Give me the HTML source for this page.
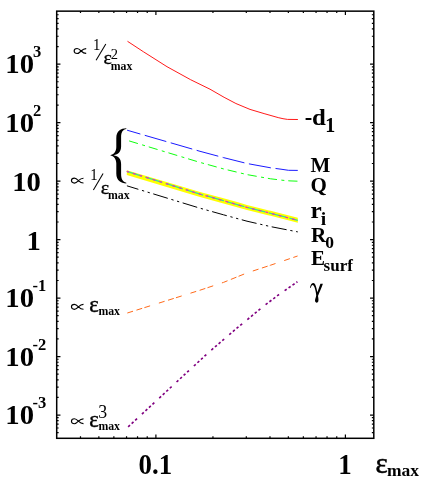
<!DOCTYPE html>
<html><head><meta charset="utf-8"><title>plot</title>
<style>
html,body{margin:0;padding:0;background:#fff;}
body{width:425px;height:482px;overflow:hidden;}
svg{display:block;will-change:transform;}
text{font-family:"Liberation Serif",serif;fill:#000;}
.b{font-weight:bold;}
</style></head><body>
<svg width="425" height="482" viewBox="0 0 425 482">
<rect x="0" y="0" width="425" height="482" fill="#fff"/>
<polygon points="126.8,170.2 180.0,185.9 200.0,191.9 223.5,198.3 238.0,202.3 247.0,204.9 268.0,210.2 270.6,210.8 297.8,217.8 297.8,222.7 270.6,215.8 268.0,215.2 247.0,210.0 238.0,207.5 223.5,203.5 200.0,197.0 180.0,190.9 126.8,175.0" fill="#ffff00"/>
<polyline points="126.8,171.4 200.0,194.1 223.5,200.7 247.0,207.4 270.6,213.3 297.8,220.3" fill="none" stroke="#30e0a0" stroke-width="1.3" stroke-dasharray="17.8 3.6" stroke-dashoffset="2"/>
<polyline points="126.8,171.4 200.0,194.1 223.5,200.7 247.0,207.4 270.6,213.3 297.8,220.3" fill="none" stroke="#e830c0" stroke-width="1.3" stroke-dasharray="2.8 4.1" stroke-dashoffset="0.5"/>
<polyline points="127.5,41.3 143.5,51.8 167.0,66.7 190.6,79.7 210.0,89.2 224.1,97.3 235.9,103.5 250.0,109.4 264.1,113.6 278.2,117.6 283.0,118.7 287.5,119.4 297.9,119.5" fill="none" stroke="#ff0000" stroke-width="0.9"/>
<polyline points="127.1,130.2 200.0,151.3 223.5,157.6 247.0,163.5 270.6,167.8 281.0,169.2 288.5,170.3 298.0,170.4" fill="none" stroke="#0000ff" stroke-width="0.9" stroke-dasharray="22.4 4.6" stroke-dashoffset="8.6"/>
<polyline points="129.1,140.9 200.0,162.4 223.5,168.9 247.0,174.6 270.6,178.8 283.0,180.3 290.0,180.9 298.0,181.2" fill="none" stroke="#00ff00" stroke-width="0.95" stroke-dasharray="9.2 4.4 3 3.95"/>
<polyline points="126.9,185.8 200.0,208.2 223.5,214.8 247.0,221.2 270.6,226.6 297.8,231.9" fill="none" stroke="#000000" stroke-width="1" stroke-dasharray="15.2 3.75 2.3 3.6 2.3 3.6" stroke-dashoffset="3.2"/>
<polyline points="127.3,313.0 200.0,290.2 223.5,282.4 247.0,272.9 270.6,265.2 297.6,256.0" fill="none" stroke="#ff6a1a" stroke-width="1" stroke-dasharray="6 3.6 6 2.3 6 9.2"/>
<polyline points="128.0,427.0 180.0,378.8 208.2,352.8 236.5,328.5 264.7,305.3 278.9,294.6 297.4,281.8" fill="none" stroke="#800080" stroke-width="1.65" stroke-dasharray="2.5 2.3 2.5 2.3 2.5 2.3 2.5 6.7" stroke-dashoffset="4.6"/>
<rect x="56.70" y="11.15" width="317.10" height="427.15" fill="none" stroke="#000" stroke-width="1.50"/>
<path d="M56.70 432.64h1.95M373.80 432.64h-1.95M56.70 428.01h1.95M373.80 428.01h-1.95M56.70 424.10h1.95M373.80 424.10h-1.95M56.70 420.71h1.95M373.80 420.71h-1.95M56.70 417.72h1.95M373.80 417.72h-1.95M56.70 415.04h3.75M373.80 415.04h-3.75M56.70 397.44h1.95M373.80 397.44h-1.95M56.70 387.14h1.95M373.80 387.14h-1.95M56.70 379.83h1.95M373.80 379.83h-1.95M56.70 374.16h1.95M373.80 374.16h-1.95M56.70 369.53h1.95M373.80 369.53h-1.95M56.70 365.62h1.95M373.80 365.62h-1.95M56.70 362.23h1.95M373.80 362.23h-1.95M56.70 359.24h1.95M373.80 359.24h-1.95M56.70 356.56h3.75M373.80 356.56h-3.75M56.70 338.96h1.95M373.80 338.96h-1.95M56.70 328.66h1.95M373.80 328.66h-1.95M56.70 321.35h1.95M373.80 321.35h-1.95M56.70 315.68h1.95M373.80 315.68h-1.95M56.70 311.05h1.95M373.80 311.05h-1.95M56.70 307.14h1.95M373.80 307.14h-1.95M56.70 303.75h1.95M373.80 303.75h-1.95M56.70 300.76h1.95M373.80 300.76h-1.95M56.70 298.08h3.75M373.80 298.08h-3.75M56.70 280.48h1.95M373.80 280.48h-1.95M56.70 270.18h1.95M373.80 270.18h-1.95M56.70 262.87h1.95M373.80 262.87h-1.95M56.70 257.20h1.95M373.80 257.20h-1.95M56.70 252.57h1.95M373.80 252.57h-1.95M56.70 248.66h1.95M373.80 248.66h-1.95M56.70 245.27h1.95M373.80 245.27h-1.95M56.70 242.28h1.95M373.80 242.28h-1.95M56.70 239.60h3.75M373.80 239.60h-3.75M56.70 222.00h1.95M373.80 222.00h-1.95M56.70 211.70h1.95M373.80 211.70h-1.95M56.70 204.39h1.95M373.80 204.39h-1.95M56.70 198.72h1.95M373.80 198.72h-1.95M56.70 194.09h1.95M373.80 194.09h-1.95M56.70 190.18h1.95M373.80 190.18h-1.95M56.70 186.79h1.95M373.80 186.79h-1.95M56.70 183.80h1.95M373.80 183.80h-1.95M56.70 181.12h3.75M373.80 181.12h-3.75M56.70 163.52h1.95M373.80 163.52h-1.95M56.70 153.22h1.95M373.80 153.22h-1.95M56.70 145.91h1.95M373.80 145.91h-1.95M56.70 140.24h1.95M373.80 140.24h-1.95M56.70 135.61h1.95M373.80 135.61h-1.95M56.70 131.70h1.95M373.80 131.70h-1.95M56.70 128.31h1.95M373.80 128.31h-1.95M56.70 125.32h1.95M373.80 125.32h-1.95M56.70 122.64h3.75M373.80 122.64h-3.75M56.70 105.04h1.95M373.80 105.04h-1.95M56.70 94.74h1.95M373.80 94.74h-1.95M56.70 87.43h1.95M373.80 87.43h-1.95M56.70 81.76h1.95M373.80 81.76h-1.95M56.70 77.13h1.95M373.80 77.13h-1.95M56.70 73.22h1.95M373.80 73.22h-1.95M56.70 69.83h1.95M373.80 69.83h-1.95M56.70 66.84h1.95M373.80 66.84h-1.95M56.70 64.16h3.75M373.80 64.16h-3.75M56.70 46.56h1.95M373.80 46.56h-1.95M56.70 36.26h1.95M373.80 36.26h-1.95M56.70 28.95h1.95M373.80 28.95h-1.95M56.70 23.28h1.95M373.80 23.28h-1.95M56.70 18.65h1.95M373.80 18.65h-1.95M56.70 14.74h1.95M373.80 14.74h-1.95M80.49 438.30v-1.95M80.49 11.15v1.95M98.85 438.30v-1.95M98.85 11.15v1.95M113.86 438.30v-1.95M113.86 11.15v1.95M126.55 438.30v-1.95M126.55 11.15v1.95M137.54 438.30v-1.95M137.54 11.15v1.95M147.23 438.30v-1.95M147.23 11.15v1.95M155.90 438.30v-3.75M155.90 11.15v3.75M212.95 438.30v-1.95M212.95 11.15v1.95M246.31 438.30v-1.95M246.31 11.15v1.95M269.99 438.30v-1.95M269.99 11.15v1.95M288.35 438.30v-1.95M288.35 11.15v1.95M303.36 438.30v-1.95M303.36 11.15v1.95M316.05 438.30v-1.95M316.05 11.15v1.95M327.04 438.30v-1.95M327.04 11.15v1.95M336.73 438.30v-1.95M336.73 11.15v1.95M345.40 438.30v-3.75M345.40 11.15v3.75" stroke="#000" stroke-width="1.20" fill="none"/>
<text class="b" transform="translate(34.00 424.04) scale(1.070 1)" font-size="26.80" text-anchor="end">10</text>
<text class="b" x="32.40" y="408.04" font-size="16.50">-3</text>
<text class="b" transform="translate(34.00 365.56) scale(1.070 1)" font-size="26.80" text-anchor="end">10</text>
<text class="b" x="32.40" y="349.56" font-size="16.50">-2</text>
<text class="b" transform="translate(34.00 307.08) scale(1.070 1)" font-size="26.80" text-anchor="end">10</text>
<text class="b" x="32.40" y="291.08" font-size="16.50">-1</text>
<text class="b" transform="translate(40.90 249.50) scale(1.070 1)" font-size="26.80" text-anchor="end">1</text>
<text class="b" transform="translate(40.90 191.02) scale(1.070 1)" font-size="26.80" text-anchor="end">10</text>
<text class="b" transform="translate(34.00 131.64) scale(1.070 1)" font-size="26.80" text-anchor="end">10</text>
<text class="b" x="33.10" y="115.64" font-size="16.50">2</text>
<text class="b" transform="translate(34.00 73.16) scale(1.070 1)" font-size="26.80" text-anchor="end">10</text>
<text class="b" x="33.10" y="57.16" font-size="16.50">3</text>
<text class="b" transform="translate(155.30 473.70) scale(0.940 1)" font-size="28.60" text-anchor="middle">0.1</text>
<text class="b" transform="translate(344.90 473.60) scale(0.950 1)" font-size="28.40" text-anchor="middle">1</text>
<text x="375.60" y="473.20" font-size="29.00" stroke="#000" stroke-width="0.50">ε</text>
<text class="b" x="387.00" y="475.80" font-size="17.50">max</text>
<text class="b" transform="translate(304.70 125.00) scale(0.980 1)" font-size="23.00">-</text>
<text class="b" transform="translate(312.10 125.00) scale(1.080 1)" font-size="23.00">d</text>
<text class="b" x="325.20" y="132.00" font-size="20.00">1</text>
<text class="b" x="310.40" y="172.00" font-size="21.00">M</text>
<text class="b" x="310.60" y="192.00" font-size="21.00">Q</text>
<text class="b" transform="translate(310.60 218.00) scale(1.100 1)" font-size="23.00">r</text>
<text class="b" x="320.80" y="224.80" font-size="19.50">i</text>
<text class="b" transform="translate(310.90 242.00) scale(1.030 1)" font-size="20.50">R</text>
<text class="b" x="325.20" y="247.80" font-size="17.50">0</text>
<text class="b" x="311.00" y="265.40" font-size="21.00">E</text>
<text class="b" x="323.60" y="271.00" font-size="17.00">surf</text>
<path d="M310.0 287.6 C310.4 285.5 311.4 283.2 313.0 283.1 C314.6 283.0 315.7 285.0 316.4 288.0 L317.4 292.3 L320.4 283.7 L322.9 283.7 C321.5 288 319.2 292.5 318.0 296.0 C318.4 298 318.6 299.5 318.4 300.8 C318.2 302.2 317.4 302.7 316.7 302.7 C315.9 302.7 315.0 302.0 315.0 300.6 C315.0 299.0 315.9 297.5 316.2 295.5 C316.0 292.5 315.3 289.5 314.6 287.5 C314.0 285.9 313.4 285.0 312.7 285.0 C311.9 285.0 311.2 286.2 310.8 287.9 Z" fill="#000"/>
<path transform="translate(73.6 51.0)" d="M12.6 -2.35 C10.8 -2.4 9.0 -1.4 7.5 0 C6.2 1.4 5.0 2.5 3.5 2.5 C1.7 2.5 0.55 1.5 0.55 0 C0.55 -1.5 1.7 -2.5 3.5 -2.5 C5.0 -2.5 6.2 -1.4 7.5 0 C9.0 1.4 10.8 2.45 12.6 2.4" fill="none" stroke="#000" stroke-width="1.15"/>
<text transform="translate(93.00 49.90) scale(0.920 1)" font-size="16.00">1</text>
<path d="M96.1 60.3L105.8 43.9" stroke="#000" stroke-width="1.05"/>
<text x="103.50" y="64.00" font-size="19.80" stroke="#000" stroke-width="0.35">ε</text>
<text x="110.70" y="58.70" font-size="14.50">2</text>
<text class="b" x="110.70" y="69.70" font-size="11.80">max</text>
<path transform="translate(70.9 180.6)" d="M12.6 -2.35 C10.8 -2.4 9.0 -1.4 7.5 0 C6.2 1.4 5.0 2.5 3.5 2.5 C1.7 2.5 0.55 1.5 0.55 0 C0.55 -1.5 1.7 -2.5 3.5 -2.5 C5.0 -2.5 6.2 -1.4 7.5 0 C9.0 1.4 10.8 2.45 12.6 2.4" fill="none" stroke="#000" stroke-width="1.15"/>
<text transform="translate(90.30 179.50) scale(0.920 1)" font-size="16.00">1</text>
<path d="M93.4 189.9L103.1 173.5" stroke="#000" stroke-width="1.05"/>
<text x="100.80" y="193.60" font-size="19.80" stroke="#000" stroke-width="0.35">ε</text>
<text class="b" x="108.00" y="199.30" font-size="11.80">max</text>
<path transform="translate(70.9 306.8)" d="M12.6 -2.35 C10.8 -2.4 9.0 -1.4 7.5 0 C6.2 1.4 5.0 2.5 3.5 2.5 C1.7 2.5 0.55 1.5 0.55 0 C0.55 -1.5 1.7 -2.5 3.5 -2.5 C5.0 -2.5 6.2 -1.4 7.5 0 C9.0 1.4 10.8 2.45 12.6 2.4" fill="none" stroke="#000" stroke-width="1.15"/>
<text x="89.30" y="312.40" font-size="22.60" stroke="#000" stroke-width="0.45">ε</text>
<text class="b" x="98.40" y="315.20" font-size="11.80">max</text>
<path transform="translate(70.9 421.2)" d="M12.6 -2.35 C10.8 -2.4 9.0 -1.4 7.5 0 C6.2 1.4 5.0 2.5 3.5 2.5 C1.7 2.5 0.55 1.5 0.55 0 C0.55 -1.5 1.7 -2.5 3.5 -2.5 C5.0 -2.5 6.2 -1.4 7.5 0 C9.0 1.4 10.8 2.45 12.6 2.4" fill="none" stroke="#000" stroke-width="1.15"/>
<text x="89.30" y="426.80" font-size="22.60" stroke="#000" stroke-width="0.45">ε</text>
<text x="98.30" y="418.00" font-size="17.80">3</text>
<text class="b" x="98.40" y="429.60" font-size="11.80">max</text>
<path d="M126.3 128.3 C121 128.5 116.3 131 116.3 138 L116.3 147 C116.3 151.5 114 154.4 110.1 155.3 C114 156.2 116.3 159 116.3 163.6 L116.3 173.5 C116.3 180.5 121 183.1 126.3 183.5 L126.3 182.7 C123 181.9 121.1 179.5 121.1 174 L121.1 164 C121.1 159 118.5 156.3 113.5 155.3 C118.5 154.3 121.1 151.5 121.1 146.5 L121.1 137.5 C121.1 132 123 129.7 126.3 129.1 Z" fill="#000"/>
</svg>
</body></html>
